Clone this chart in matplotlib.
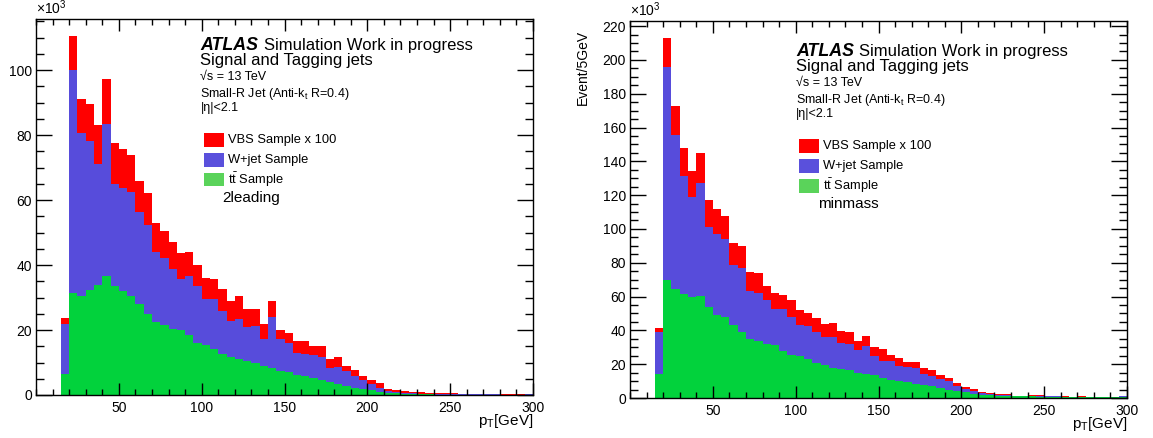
import matplotlib
matplotlib.use("Agg")
import matplotlib.pyplot as plt
import numpy as np
from matplotlib.patches import Rectangle
from matplotlib.ticker import MultipleLocator

plt.rcParams['font.family'] = ['Liberation Sans', 'DejaVu Sans']
plt.rcParams['mathtext.fontset'] = 'custom'
plt.rcParams['mathtext.rm'] = 'Liberation Sans'
plt.rcParams['mathtext.it'] = 'Liberation Sans:italic'

W, H = 1153, 438

# bin edges in GeV (5 GeV bins, 15..300)
edges = np.arange(15, 305, 5)

# left panel "2leading" (x10^3 events per bin)
left_tt = [6.4, 31.3, 30.6, 32.3, 34.0, 36.6, 33.6, 32.1, 30.5, 28.0,
           24.9, 22.5, 21.5, 20.3, 20.0, 18.4, 15.9, 15.3, 14.2, 12.5,
           11.8, 11.0, 10.6, 9.8, 8.8, 8.3, 7.5, 7.0, 6.2, 6.0,
           5.2, 4.6, 4.1, 3.4, 2.9, 2.3, 1.8, 1.4, 0.9, 0.6,
           0.5, 0.4, 0.3, 0.25, 0.2, 0.15, 0.1, 0.1, 0.1, 0.1,
           0.1, 0.1, 0.1, 0.05, 0.05, 0.05, 0.05]
left_wjet = [15.6, 68.7, 49.9, 45.9, 37.0, 46.8, 31.2, 31.7, 32.1, 28.3,
             27.4, 21.4, 20.6, 18.4, 15.7, 18.2, 17.7, 14.2, 15.3, 13.4,
             11.0, 12.3, 10.2, 11.5, 8.5, 15.6, 9.8, 9.1, 6.6, 6.6,
             7.1, 7.2, 4.3, 5.3, 4.6, 3.7, 2.8, 2.0, 1.2, 0.7,
             0.5, 0.3, 0.2, 0.15, 0.15, 0.15, 0.15, 0.1, 0.1, 0.1,
             0.1, 0.1, 0.1, 0.1, 0.1, 0.1, 0.25]
left_vbs = [1.8, 10.5, 10.6, 11.3, 12.1, 13.9, 12.6, 11.8, 11.1, 9.6,
            9.9, 8.9, 8.4, 8.5, 7.9, 7.3, 6.4, 6.6, 6.3, 6.6,
            6.2, 7.2, 5.7, 5.2, 4.4, 5.1, 2.7, 2.9, 3.9, 4.1,
            2.8, 3.3, 2.7, 3.1, 1.5, 1.7, 1.4, 1.3, 1.5, 0.5,
            0.5, 0.5, 0.3, 0.4, 0.25, 0.2, 0.25, 0.3, 0.2, 0.2,
            0.2, 0.2, 0.2, 0.05, 0.05, 0.05, 0.0]

# right panel "minmass"
right_tt = [14.2, 69.8, 64.3, 61.5, 59.5, 60.3, 54.0, 49.1, 48.1, 43.2,
            39.3, 34.8, 34.0, 32.1, 31.1, 28.0, 25.6, 24.7, 23.1, 20.8,
            19.8, 17.8, 17.2, 16.4, 14.8, 14.4, 13.4, 11.8, 10.8, 9.9,
            9.3, 8.5, 7.9, 6.9, 5.9, 4.9, 3.9, 3.4, 2.6, 2.0,
            1.6, 1.4, 1.2, 1.1, 1.0, 0.9, 0.8, 0.7, 0.7, 0.6,
            0.6, 0.5, 0.5, 0.4, 0.4, 0.4, 0.4]
right_wjet = [24.7, 125.7, 91.3, 70.0, 59.6, 66.7, 47.0, 48.0, 46.1, 35.5,
              37.4, 28.5, 28.3, 25.9, 21.4, 24.5, 22.6, 18.6, 19.6, 18.5,
              16.2, 18.2, 15.3, 15.7, 13.4, 16.5, 11.7, 10.2, 10.8, 9.1,
              8.9, 9.1, 6.1, 6.1, 5.2, 5.2, 3.3, 1.9, 1.7, 0.8,
              0.6, 0.4, 0.3, 0.3, 0.3, 0.3, 0.3, 0.3, 0.2, 0.2,
              0.2, 0.2, 0.2, 0.2, 0.2, 0.2, 0.6]
right_vbs = [2.7, 17.3, 17.4, 16.6, 15.2, 18.2, 16.2, 14.5, 13.5, 13.2,
             13.2, 11.4, 11.5, 8.5, 9.4, 8.5, 9.8, 8.8, 7.8, 7.9,
             7.8, 8.6, 7.4, 7.2, 5.6, 5.8, 5.3, 6.8, 3.8, 4.5,
             3.3, 3.9, 3.6, 3.6, 2.5, 1.9, 1.9, 1.4, 1.0, 0.6,
             0.6, 0.4, 0.7, 0.0, 0.1, 0.6, 0.7, 0.2, 0.3, 0.6,
             0.0, 0.5, 0.0, 0.0, 0.0, 0.0, 0.0]

legend_labels = ["VBS Sample x 100", "W+jet Sample", r"t$\bar{\mathrm{t}}$ Sample"]
RED, BLUE, GREEN = "#ff0000", "#574cdb", "#02d23c"
LEG_COLORS = ["#ff0000", "#5a50dc", "#5ad35a"]


def fx(x):
    return x / W


def fy(y):
    return 1 - y / H


def draw_panel(ax, tt, wjet, vbs, ylim):
    tt = np.array(tt)
    s1 = tt + np.array(wjet)
    s2 = s1 + np.array(vbs)
    ax.stairs(s2, edges, baseline=s1, fill=True, color=RED, lw=0)
    ax.stairs(s1, edges, baseline=tt, fill=True, color=BLUE, lw=0)
    ax.stairs(tt, edges, baseline=0, fill=True, color=GREEN, lw=0)
    ax.set_xlim(0, 300)
    ax.set_ylim(0, ylim)
    ax.xaxis.set_major_locator(MultipleLocator(50))
    ax.xaxis.set_minor_locator(MultipleLocator(10))
    ax.yaxis.set_major_locator(MultipleLocator(20))
    ax.yaxis.set_minor_locator(MultipleLocator(5))
    ax.tick_params(which='both', direction='in', top=True, right=True,
                   labelsize=10, width=1)
    ax.tick_params(axis='x', which='major', length=8.3, pad=4)
    ax.tick_params(axis='x', which='minor', length=4.3)
    ax.tick_params(axis='y', which='major', length=11.5, pad=3)
    ax.tick_params(axis='y', which='minor', length=5.8)
    ax.set_xticks([50, 100, 150, 200, 250, 300])
    for s in ax.spines.values():
        s.set_linewidth(1)
    ax.text(0, 1.005, r"$\times$10$^3$", transform=ax.transAxes,
            ha='left', va='bottom', fontsize=10)
    ax.text(1, -0.045, r"p$_{\mathrm{T}}$[GeV]", transform=ax.transAxes,
            ha='right', va='top', fontsize=11)


def draw_labels(fig, x0, y0, extra):
    # x0: left of text block, y0: baseline of ATLAS line (pixels)
    fig.text(fx(x0), fy(y0), "ATLAS", fontsize=12.8, fontweight='bold',
             style='italic', va='baseline')
    fig.text(fx(x0 + 63), fy(y0), "Simulation Work in progress", fontsize=12,
             va='baseline')
    fig.text(fx(x0), fy(y0 + 15.5), "Signal and Tagging jets", fontsize=12,
             va='baseline')
    fig.text(fx(x0), fy(y0 + 30), "√s = 13 TeV", fontsize=9,
             va='baseline')
    fig.text(fx(x0), fy(y0 + 46.5), r"Small-R Jet (Anti-k$_{\mathrm{t}}$ R=0.4)",
             fontsize=9, va='baseline')
    fig.text(fx(x0), fy(y0 + 61.5), "|η|<2.1", fontsize=9,
             va='baseline')
    for i, (lab, c) in enumerate(zip(legend_labels, LEG_COLORS)):
        top = y0 + 83 + i * 20
        fig.add_artist(Rectangle((fx(x0 + 3), fy(top + 13.5)), 20 / W, 13.5 / H,
                                 transform=fig.transFigure, color=c, lw=0))
        fig.text(fx(x0 + 27), fy(top + 7), lab, fontsize=9.3, va='center')
    fig.text(fx(x0 + 22), fy(y0 + 148), extra, fontsize=11, va='center')


fig = plt.figure(figsize=(W / 100, H / 100), dpi=100)
axL = fig.add_axes([fx(36), fy(395), 497 / W, 376 / H])
axR = fig.add_axes([fx(630), fy(398), 497 / W, 377 / H])

draw_panel(axL, left_tt, left_wjet, left_vbs, 115.7)
draw_panel(axR, right_tt, right_wjet, right_vbs, 223)

draw_labels(fig, 200.5, 50, "2leading")
draw_labels(fig, 796, 56, "minmass")

fig.text(fx(583), fy(30), "Event/5GeV", rotation=90, ha='center', va='top',
         fontsize=10)

fig.savefig("out.png", dpi=100)
